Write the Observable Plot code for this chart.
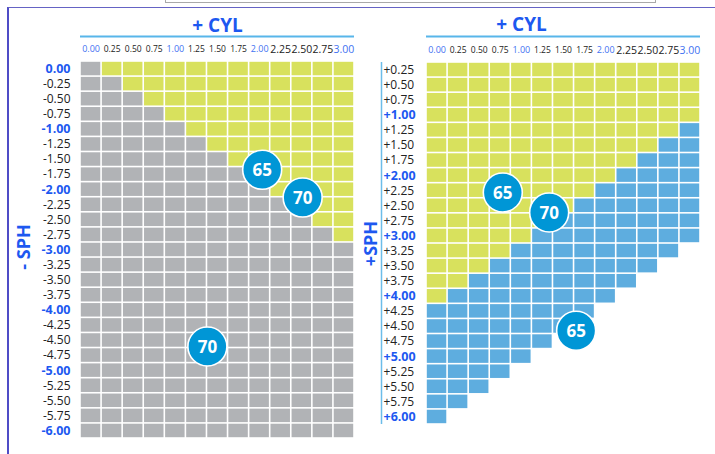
<!DOCTYPE html>
<html>
<head>
<meta charset="utf-8">
<script src="https://cdn.jsdelivr.net/npm/d3@7"></script>
<script src="https://cdn.jsdelivr.net/npm/@observablehq/plot@0.6"></script>
<style>
  html, body { margin: 0; padding: 0; background: #fff; }
  #wrap { position: relative; width: 715px; height: 454px; overflow: hidden; font-family: "Open Sans", sans-serif; }
  #frame { position: absolute; left: 7px; top: 7px; right: -10px; bottom: -10px; border-left: 2px solid #4f4cc6; border-top: 1.5px solid #6563c4; }
  #topbox { position: absolute; left: 165px; top: -12px; width: 489px; height: 13px; border: 1.5px solid #a9a9a9; }
  .panel { position: absolute; top: 0; }
</style>
</head>
<body>
<div id="wrap">
  <div id="topbox"></div>
  <div id="frame"></div>
  <div id="left" class="panel" style="left:0px"></div>
  <div id="right" class="panel" style="left:360px"></div>
</div>
<script>
// ---- data ----
const cylValues = [0.00, 0.25, 0.50, 0.75, 1.00, 1.25, 1.50, 1.75, 2.00, 2.25, 2.50, 2.75, 3.00];

const leftSph = [0.00, -0.25, -0.50, -0.75, -1.00, -1.25, -1.50, -1.75, -2.00, -2.25, -2.50, -2.75,
  -3.00, -3.25, -3.50, -3.75, -4.00, -4.25, -4.50, -4.75, -5.00, -5.25, -5.50, -5.75, -6.00];
// number of grey cells (from the left) in each row of the minus panel; the rest are yellow
const leftGrayCount = [1, 2, 3, 4, 5, 6, 7, 8, 9, 10, 11, 12, 13, 13, 13, 13, 13, 13, 13, 13, 13, 13, 13, 13, 13];

const rightSph = [0.25, 0.50, 0.75, 1.00, 1.25, 1.50, 1.75, 2.00, 2.25, 2.50, 2.75, 3.00,
  3.25, 3.50, 3.75, 4.00, 4.25, 4.50, 4.75, 5.00, 5.25, 5.50, 5.75, 6.00];
// number of cells present in each row of the plus panel
const rightCellCount = [13, 13, 13, 13, 13, 13, 13, 13, 13, 13, 13, 13, 12, 11, 10, 9, 8, 7, 6, 5, 4, 3, 2, 1];
// number of yellow cells (from the left) in each row of the plus panel; the rest are blue
const rightYellowCount = [13, 13, 13, 13, 12, 11, 10, 9, 8, 7, 6, 5, 4, 3, 2, 1, 0, 0, 0, 0, 0, 0, 0, 0];

const leftBadgeLabel = ["65", "70", "70"];
const leftBadgeCyl = [2.03, 2.51, 1.38];
const leftBadgeSph = [-1.67, -2.13, -4.60];

const rightBadgeLabel = ["65", "70", "65"];
const rightBadgeCyl = [0.78, 1.33, 1.65];
const rightBadgeSph = [2.28, 2.61, 4.57];

// ---- styling ----
const BLUE_TEXT = "#1d58f0";
const BLUE_TICK = "#3f72f2";
const DARK = "#222";
const zoneDomain = ["zoneGrey", "zoneYellow", "zoneBlue"];
const zoneRange = ["#b1b3b6", "#d8e15d", "#5eaddf"];
const isInt = v => Math.abs(v - Math.round(v)) < 1e-9;
const fmt = v => Math.abs(v).toFixed(2);

function buildCells(sphs, counts, splitCounts, lowCat, highCat) {
  const cells = [];
  sphs.forEach((s, i) => {
    for (let j = 0; j < counts[i]; j++) {
      const cat = j < splitCounts[i] ? lowCat : highCat;
      cells.push({cyl: cylValues[j], sph: s, cat});
    }
  });
  return cells;
}

const leftCells = buildCells(leftSph, leftSph.map(() => cylValues.length), leftGrayCount, "zoneGrey", "zoneYellow");
const rightCells = buildCells(rightSph, rightCellCount, rightYellowCount, "zoneYellow", "zoneBlue");
const leftBadges = leftBadgeLabel.map((t, i) => ({t, cyl: leftBadgeCyl[i], sph: leftBadgeSph[i]}));
const rightBadges = rightBadgeLabel.map((t, i) => ({t, cyl: rightBadgeCyl[i], sph: rightBadgeSph[i]}));

const half = 0.125;

function cylTickMarks() {
  const small = cylValues.filter(v => v < 2.2 && !isInt(v));
  const smallBlue = cylValues.filter(v => v < 2.2 && isInt(v));
  const big = cylValues.filter(v => v > 2.2 && !isInt(v));
  const bigBlue = cylValues.filter(v => v > 2.2 && isInt(v));
  const common = {frameAnchor: "top", dy: -12, lineAnchor: "middle", textAnchor: "middle", text: d => d.toFixed(2)};
  return [
    Plot.text(small, {...common, x: d => d, fontSize: 8.5, fill: DARK}),
    Plot.text(smallBlue, {...common, x: d => d, fontSize: 9, fill: BLUE_TICK}),
    Plot.text(big, {...common, x: d => d, fontSize: 10.5, fill: DARK}),
    Plot.text(bigBlue, {...common, x: d => d, fontSize: 10.5, fill: BLUE_TICK})
  ];
}

function badgeMarks(badges) {
  return [
    Plot.dot(badges, {x: "cyl", y: "sph", r: 19.5, fill: "#0096d6", stroke: "white", strokeWidth: 1.6}),
    Plot.text(badges, {x: "cyl", y: "sph", text: "t", fill: "white", fontSize: 17, fontWeight: "bold", dy: 1})
  ];
}

// ---- left (minus) panel ----
const left = Plot.plot({
  width: 360,
  height: 454,
  marginLeft: 80,
  marginRight: 6,
  marginTop: 61,
  marginBottom: 16,
  style: {background: "none", overflow: "visible", fontFamily: "'Open Sans', sans-serif"},
  x: {domain: [-half, 3 + half], axis: null},
  y: {domain: [-6 - half, half], axis: null},
  color: {type: "ordinal", domain: zoneDomain, range: zoneRange},
  marks: [
    Plot.rect(leftCells, {x1: d => d.cyl - half, x2: d => d.cyl + half, y1: d => d.sph - half, y2: d => d.sph + half, fill: "cat", inset: 0.8}),
    Plot.text(leftSph.filter(v => !isInt(v)), {y: d => d, frameAnchor: "left", dx: -10, textAnchor: "end", text: d => "-" + fmt(d), fontSize: 12, fill: DARK}),
    Plot.text(leftSph.filter(v => isInt(v)), {y: d => d, frameAnchor: "left", dx: -10, textAnchor: "end", text: d => (d < 0 ? "-" : "") + fmt(d), fontSize: 12.5, fontWeight: "bold", fill: BLUE_TEXT}),
    ...cylTickMarks(),
    Plot.ruleY([half], {x1: -half, x2: 3 + half, dy: -25, stroke: "#58b6ea", strokeWidth: 2}),
    Plot.text(["+ CYL"], {frameAnchor: "top", dy: -36, lineAnchor: "middle", textAnchor: "middle", fontSize: 19, fontWeight: "bold", fill: BLUE_TEXT}),
    Plot.text(["- SPH"], {frameAnchor: "left", dx: -56, dy: -3, rotate: -90, textAnchor: "middle", lineAnchor: "middle", fontSize: 18, fontWeight: "bold", fill: BLUE_TEXT}),
    ...badgeMarks(leftBadges)
  ]
});
document.getElementById("left").appendChild(left);

// ---- right (plus) panel ----
const right = Plot.plot({
  width: 355,
  height: 454,
  marginLeft: 66,
  marginRight: 15,
  marginTop: 62,
  marginBottom: 30,
  style: {background: "none", overflow: "visible", fontFamily: "'Open Sans', sans-serif"},
  x: {domain: [-half, 3 + half], axis: null},
  y: {domain: [6 + half, half], axis: null},
  color: {type: "ordinal", domain: zoneDomain, range: zoneRange},
  marks: [
    Plot.rect(rightCells, {x1: d => d.cyl - half, x2: d => d.cyl + half, y1: d => d.sph - half, y2: d => d.sph + half, fill: "cat", inset: 0.8}),
    Plot.ruleX([-half], {y1: half, y2: 6 + half, dx: -45, stroke: "#6cbde9", strokeWidth: 1.5}),
    Plot.text(rightSph.filter(v => !isInt(v)), {y: d => d, frameAnchor: "left", dx: -43, textAnchor: "start", text: d => "+" + fmt(d), fontSize: 12, fill: DARK}),
    Plot.text(rightSph.filter(v => isInt(v)), {y: d => d, frameAnchor: "left", dx: -43, textAnchor: "start", text: d => "+" + fmt(d), fontSize: 12.5, fontWeight: "bold", fill: BLUE_TEXT}),
    ...cylTickMarks(),
    Plot.ruleY([half], {x1: -half, x2: 3 + half, dy: -26, stroke: "#58b6ea", strokeWidth: 2}),
    Plot.text(["+ CYL"], {frameAnchor: "top", dx: -42, dy: -37.5, lineAnchor: "middle", textAnchor: "middle", fontSize: 19, fontWeight: "bold", fill: BLUE_TEXT}),
    Plot.text(["+SPH"], {frameAnchor: "left", dx: -55, rotate: -90, textAnchor: "middle", lineAnchor: "middle", fontSize: 18, fontWeight: "bold", fill: BLUE_TEXT}),
    ...badgeMarks(rightBadges)
  ]
});
document.getElementById("right").appendChild(right);
</script>
</body>
</html>
